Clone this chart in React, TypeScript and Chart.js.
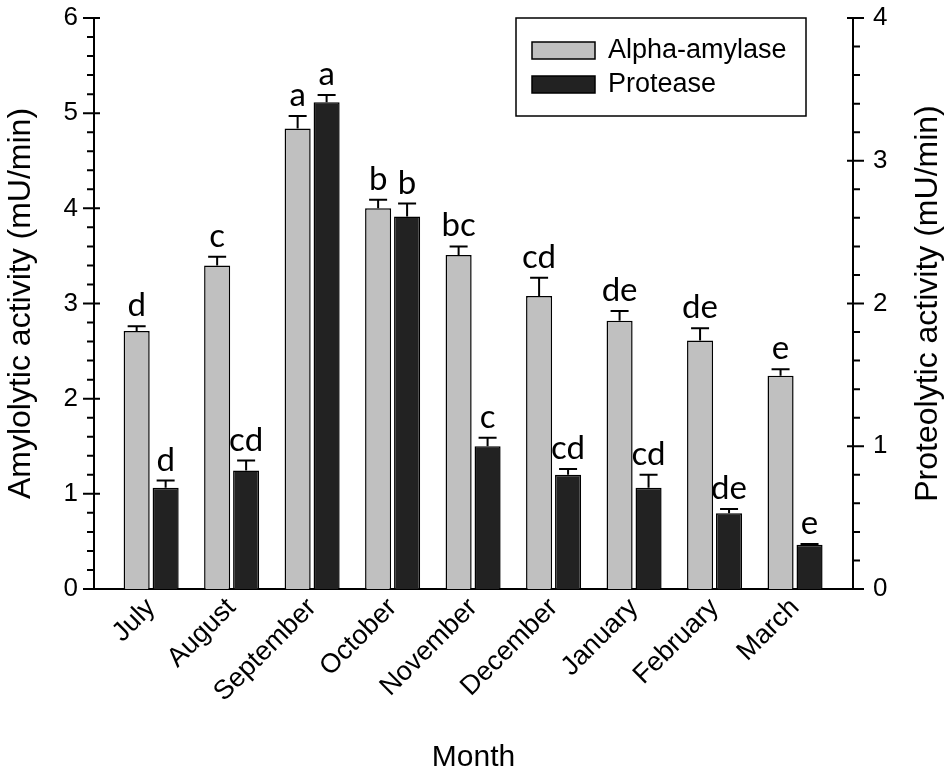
import React, { useEffect, useRef } from "react";
import { Chart, registerables } from "chart.js";

Chart.register(...registerables);

const months = ["July", "August", "September", "October", "November", "December", "January", "February", "March"];
const amylase = [2.71, 3.4, 4.84, 4.0, 3.51, 3.08, 2.82, 2.61, 2.24];
const amylaseErr = [0.05, 0.09, 0.13, 0.09, 0.09, 0.19, 0.1, 0.13, 0.07];
const amylaseLetters = ["d", "c", "a", "b", "bc", "cd", "de", "de", "e"];
const protease = [0.71, 0.83, 3.41, 2.61, 1.0, 0.8, 0.71, 0.53, 0.31];
const proteaseErr = [0.05, 0.07, 0.05, 0.09, 0.06, 0.04, 0.09, 0.03, 0.005];
const proteaseLetters = ["d", "cd", "a", "b", "c", "cd", "cd", "de", "e"];
const leftTicks = [0, 1, 2, 3, 4, 5, 6];
const rightTicks = [0, 1, 2, 3, 4];
const leftTitle = "Amylolytic activity (mU/min)";
const rightTitle = "Proteolytic activity (mU/min)";
const xTitle = "Month";

const FONT = "'Liberation Sans', Arial, sans-serif";
const LETTER_FONT = "Lato, 'Open Sans', sans-serif";

const errs = [amylaseErr, proteaseErr];
const letters = [amylaseLetters, proteaseLetters];

const decorPlugin = {
  id: "decor",
  afterDatasetsDraw(chart: any) {
    const ctx = chart.ctx;
    ctx.save();
    chart.data.datasets.forEach((ds: any, di: number) => {
      const meta = chart.getDatasetMeta(di);
      const scale = chart.scales[ds.yAxisID];
      meta.data.forEach((bar: any, i: number) => {
        const v = ds.data[i].y;
        const top = scale.getPixelForValue(v + errs[di][i]);
        ctx.strokeStyle = "#000";
        ctx.lineWidth = 2;
        ctx.beginPath();
        ctx.moveTo(bar.x, bar.y);
        ctx.lineTo(bar.x, top);
        ctx.moveTo(bar.x - 9, top);
        ctx.lineTo(bar.x + 9, top);
        ctx.stroke();
        ctx.fillStyle = "#000";
        ctx.font = `33px ${LETTER_FONT}`;
        ctx.textAlign = "center";
        ctx.textBaseline = "alphabetic";
        ctx.fillText(letters[di][i], bar.x, top - 10);
      });
    });
    ctx.restore();
  },
  afterDraw(chart: any) {
    const ctx = chart.ctx;
    const area = chart.chartArea;
    ctx.save();
    ctx.strokeStyle = "#000";
    ctx.lineWidth = 2;
    const y = chart.scales.y;
    const lx = area.left;
    ctx.beginPath();
    for (let k = 0; k <= 30; k++) {
      const p = y.getPixelForValue(k * 0.2);
      if (k % 5 === 0) {
        ctx.moveTo(lx - 11, p);
        ctx.lineTo(lx + 6, p);
      } else {
        ctx.moveTo(lx - 7, p);
        ctx.lineTo(lx, p);
      }
    }
    const y1 = chart.scales.y1;
    const rx = area.right;
    for (let k = 0; k <= 20; k++) {
      const p = y1.getPixelForValue(k * 0.2);
      if (k % 5 === 0) {
        ctx.moveTo(rx - 6, p);
        ctx.lineTo(rx + 11, p);
      } else {
        ctx.moveTo(rx, p);
        ctx.lineTo(rx + 7, p);
      }
    }
    ctx.stroke();

    ctx.fillStyle = "#000";
    ctx.font = `32px ${FONT}`;
    ctx.textAlign = "center";
    ctx.textBaseline = "middle";
    ctx.save();
    ctx.translate(928, (area.top + area.bottom) / 2);
    ctx.rotate(-Math.PI / 2);
    ctx.fillText(rightTitle, 0, 0);
    ctx.restore();

    const lxb = 516, lyb = 18, lw = 290, lh = 98;
    ctx.fillStyle = "#fff";
    ctx.fillRect(lxb, lyb, lw, lh);
    ctx.lineWidth = 1.5;
    ctx.strokeRect(lxb, lyb, lw, lh);
    chart.data.datasets.forEach((ds: any, di: number) => {
      const sy = 42 + di * 34;
      ctx.fillStyle = ds.backgroundColor;
      ctx.fillRect(532, sy, 63, 17);
      ctx.strokeStyle = "#000";
      ctx.lineWidth = 1.5;
      ctx.strokeRect(532, sy, 63, 17);
      ctx.fillStyle = "#000";
      ctx.font = `27px ${FONT}`;
      ctx.textAlign = "left";
      ctx.textBaseline = "middle";
      ctx.fillText(ds.label, 608, sy + 9);
    });
    ctx.restore();
  },
};

export default function App() {
  const ref = useRef<HTMLCanvasElement | null>(null);
  useEffect(() => {
    if (!ref.current) return;
    Chart.defaults.font.family = FONT;
    Chart.defaults.color = "#000";
    const chart = new Chart(ref.current, {
      type: "bar",
      data: {
        datasets: [
          {
            label: "Alpha-amylase",
            data: amylase.map((v, i) => ({ x: i, y: v })),
            backgroundColor: "#c0c0c0",
            borderColor: "#000",
            borderWidth: 1.5,
            yAxisID: "y",
          },
          {
            label: "Protease",
            data: protease.map((v, i) => ({ x: i, y: v })),
            backgroundColor: "#222222",
            borderColor: "#000",
            borderWidth: 1.5,
            yAxisID: "y1",
          },
        ],
      },
      options: {
        responsive: false,
        animation: false,
        devicePixelRatio: 1,
        categoryPercentage: 0.72,
        barPercentage: 0.9,
        layout: { padding: { top: 18, left: 0, right: 0, bottom: 0 } },
        plugins: { legend: { display: false }, tooltip: { enabled: false } },
        scales: {
          x: {
            type: "linear",
            min: -0.71,
            max: 8.72,
            offset: false,
            grid: { display: false, drawTicks: false },
            border: { display: true, color: "#000", width: 2 },
            afterBuildTicks: (s: any) => {
              s.ticks = months.map((_, i) => ({ value: i }));
            },
            ticks: {
              autoSkip: false,
              maxRotation: 45,
              minRotation: 45,
              padding: 3,
              font: { size: 27 },
              color: "#000",
              callback: (v: any) => months[v] ?? "",
            },
            title: {
              display: true,
              text: xTitle,
              font: { size: 30, lineHeight: 0.8 },
              padding: { top: 0, bottom: 0 },
              color: "#000",
            },
            afterFit: (s: any) => {
              s.height = 181;
              s.paddingLeft = 0;
              s.paddingRight = 0;
              s.paddingTop = 0;
              s.paddingBottom = 0;
            },
          },
          y: {
            type: "linear",
            position: "left",
            min: 0,
            max: 6,
            grid: { display: false, drawTicks: false },
            border: { display: true, color: "#000", width: 2 },
            afterBuildTicks: (s: any) => {
              s.ticks = leftTicks.map((v) => ({ value: v }));
            },
            ticks: { padding: 16, font: { size: 26 }, color: "#000" },
            title: {
              display: true,
              text: leftTitle,
              font: { size: 32, lineHeight: 1 },
              padding: { top: 5, bottom: 0 },
              color: "#000",
            },
            afterFit: (s: any) => {
              s.width = 94;
              s.paddingTop = 0;
              s.paddingBottom = 0;
              s.paddingLeft = 0;
              s.paddingRight = 0;
            },
          },
          y1: {
            type: "linear",
            position: "right",
            min: 0,
            max: 4,
            grid: { display: false, drawTicks: false },
            border: { display: true, color: "#000", width: 2 },
            afterBuildTicks: (s: any) => {
              s.ticks = rightTicks.map((v) => ({ value: v }));
            },
            ticks: { padding: 20, font: { size: 26 }, color: "#000" },
            title: { display: false },
            afterFit: (s: any) => {
              s.width = 97;
              s.paddingTop = 0;
              s.paddingBottom = 0;
              s.paddingLeft = 0;
              s.paddingRight = 0;
            },
          },
        },
      } as any,
      plugins: [decorPlugin],
    });
    return () => chart.destroy();
  }, []);
  return (
    <div style={{ position: "absolute", left: 0, top: 0, width: 950, height: 770, background: "#fff" }}>
      <canvas ref={ref} width={950} height={770} style={{ display: "block" }} />
    </div>
  );
}
